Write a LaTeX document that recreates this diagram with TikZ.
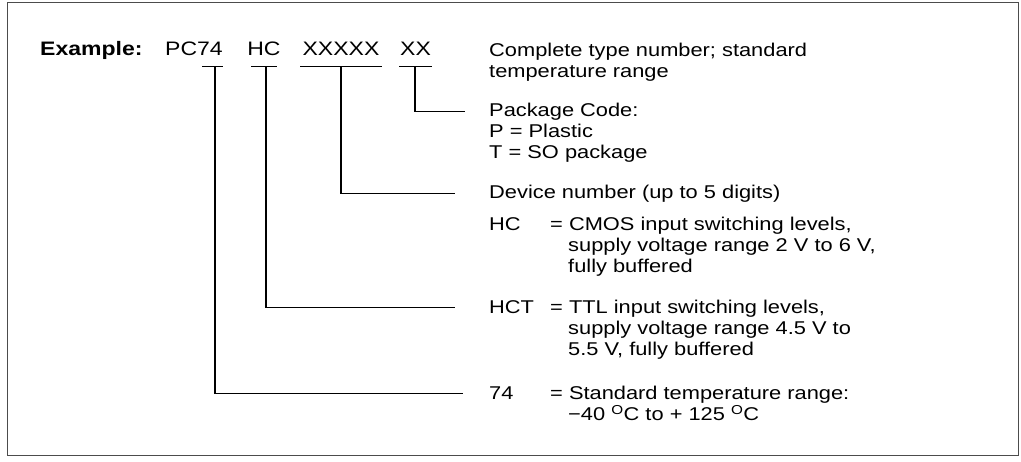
\documentclass[tikz,border=0pt]{standalone}
\usepackage{fontspec}
\setmainfont{Liberation Sans}[FakeStretch=1.18]

\tikzset{
    txt/.style={anchor=base west, inner sep=0pt, font=\fontsize{18.5}{21}\selectfont},
    code/.style={anchor=base, inner sep=0pt, font=\fontsize{19.5}{21}\selectfont},
    lead/.style={line width=1.1pt},
}

\begin{document}
\begin{tikzpicture}[x=1pt, y=-1pt]
    \useasboundingbox (0,0) rectangle (1021,462);
    % \draw[help lines, step=50] (0,0) grid (1021,462);
    % frame
    \draw[black!70, line width=1pt] (7,2.5) rectangle (1018,456);

    % type number
    \node[code, anchor=base west] (ex) at (40,56) {\bfseries Example:};
    \node[code, anchor=base east] (pc) at (223,56) {PC74};
    \node[code] (hc) at (264,56) {HC};
    \node[code] (num) at (341,56) {XXXXX};
    \node[code] (pkc) at (415.5,56) {XX};

    % underlines
    \draw[lead] (202,66.5) -- (223,66.5);
    \draw[lead] (251,66.5) -- (277,66.5);
    \draw[lead] (300,66.5) -- (382,66.5);
    \draw[lead] (399,66.5) -- (432,66.5);
    \coordinate (u74) at (215,66.5);
    \coordinate (uhc) at (266,66.5);
    \coordinate (unum) at (341,66.5);
    \coordinate (upkc) at (415,66.5);

    % explanations
    \node[txt] (all) at (489,57) {Complete type number; standard};
    \node[txt] (all2) at (489,78) {temperature range};
    \node[txt] (pkg) at (489,116.5) {Package Code:};
    \node[txt] (pkgp) at (489,137.5) {P = Plastic};
    \node[txt] (pkgt) at (489,158.5) {T = SO package};
    \node[txt] (dev) at (489,198.5) {Device number (up to 5 digits)};

    \node[txt] (khc) at (489,231) {HC};
    \node[txt] (dhc) at (550,231) {= CMOS input switching levels,};
    \node[txt] (dhc2) at (568,252) {supply voltage range 2 V to 6 V,};
    \node[txt] (dhc3) at (568,273) {fully buffered};

    \node[txt] (khct) at (489,313.5) {HCT};
    \node[txt] (dhct) at (550,313.5) {= TTL input switching levels,};
    \node[txt] (dhct2) at (568,334.5) {supply voltage range 4.5 V to};
    \node[txt] (dhct3) at (568,355.5) {5.5 V, fully buffered};

    \node[txt] (k74) at (489,399.5) {74};
    \node[txt] (d74) at (550,399.5) {= Standard temperature range:};
    \node[txt] (d742) at (568,420.5) {−40 \textsuperscript{O}C to + 125 \textsuperscript{O}C};

    % leads
    \draw[lead] (upkc) |- ([xshift=-24pt]pkg.west);
    \draw[lead] (unum) |- ([xshift=-34pt]dev.west);
    \draw[lead] (uhc) |- ([xshift=-34pt]khct.west);
    \draw[lead] (u74) |- ([xshift=-26pt]k74.west);
\end{tikzpicture}
\end{document}
